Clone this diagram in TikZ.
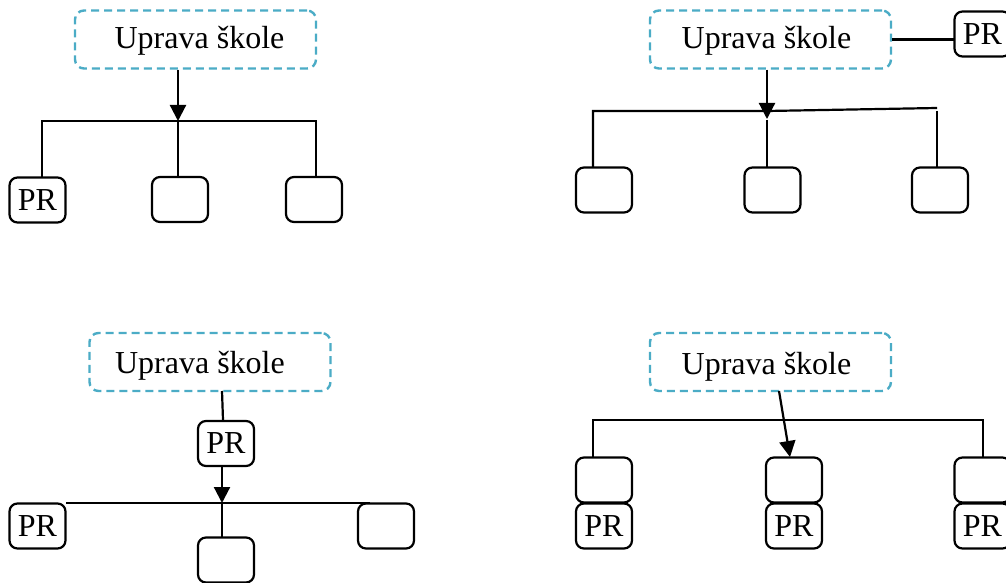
\documentclass[tikz,border=0pt]{standalone}
\usepackage{fontspec}
\setmainfont{Liberation Serif}
\usetikzlibrary{arrows.meta}
\definecolor{aqua}{RGB}{75,172,198}
\newcommand{\utext}[2]{\hspace*{#1}\raisebox{#2}[0pt][0pt]{Uprava škole}}
\begin{document}
\begin{tikzpicture}[x=1pt,y=-1pt,
  font=\fontsize{32}{36}\selectfont,
  ubox/.style={draw=aqua,line width=2.4pt,dash pattern=on 8pt off 5pt,rounded corners=9pt,
    minimum width=241pt,minimum height=58pt,inner sep=0pt},
  sbox/.style={draw=black,line width=2.2pt,rounded corners=8pt,
    minimum width=56pt,minimum height=45pt,inner sep=0pt,outer sep=0pt},
  conn/.style={draw=black,line width=2.2pt},
  arr/.style={conn,-{Triangle[length=16pt,width=16pt]}}]
\useasboundingbox (0,0) rectangle (1006,583);
\fill[white] (0,0) rectangle (1006,583);

% ---------- panel 1 ----------
\node[ubox] (u1) at (195.5,39.5) {\utext{8pt}{-9pt}};
\node[sbox] (p1a) at (37.5,200) {PR};
\node[sbox] (p1b) at (180,199.5) {};
\node[sbox] (p1c) at (314,199.5) {};
\coordinate (b1l) at (42,121);
\coordinate (b1m) at (178,121);
\coordinate (b1r) at (316,121);
\draw[conn] (b1l |- p1a.north) -- (b1l) -- (b1r) -- (b1r |- p1c.north);
\draw[conn] (b1m) -- (b1m |- p1b.north);
\draw[arr] (u1.south -| b1m) -- (b1m);

% ---------- panel 2 ----------
\node[ubox] (u2) at (770.5,39.5) {\utext{-8pt}{-9pt}};
\node[sbox] (pr2) at (982.5,34) {PR};
\node[sbox] (p2a) at (604,190) {};
\node[sbox] (p2b) at (772.5,190) {};
\node[sbox] (p2c) at (940,190) {};
\draw[conn] (u2.east) -- (u2.east -| pr2.west);
\coordinate (b2l) at (593,111);
\coordinate (b2m) at (767,111);
\coordinate (b2r) at (937,108);
\coordinate (b2rv) at (937,111);
\coordinate (b2mv) at (767,120);
\draw[conn] (b2l |- p2a.north) -- (b2l) -- (b2m) -- (b2r);
\draw[conn] (b2rv) -- (b2rv |- p2c.north);
\draw[conn] (b2mv) -- (b2mv |- p2b.north);
\draw[arr] (u2.south -| b2m) -- (767,119);

% ---------- panel 3 ----------
\node[ubox] (u3) at (210,362) {\utext{-20pt}{-11pt}};
\node[sbox] (pr3) at (226,443.5) {PR};
\node[sbox] (p3a) at (37.5,526) {PR};
\node[sbox] (p3c) at (386,526) {};
\node[sbox] (p3b) at (226,560) {};
\coordinate (c3a) at (222,391);
\coordinate (c3b) at (223,420);
\coordinate (b3l) at (66,503);
\coordinate (b3m) at (222,503);
\coordinate (b3r) at (370,503);
\draw[conn] (c3a) -- (c3b);
\draw[arr] (pr3.south -| b3m) -- (b3m);
\draw[conn] (b3l) -- (b3r);
\draw[conn] (b3m) -- (b3m |- p3b.north);

% ---------- panel 4 ----------
\node[ubox] (u4) at (770.5,362) {\utext{-8pt}{-12pt}};
\node[sbox] (q4a) at (604,480) {};
\node[sbox] (q4b) at (794,480) {};
\node[sbox] (q4c) at (982.5,480) {};
\node[sbox] (r4a) at (604,526) {PR};
\node[sbox] (r4b) at (794,526) {PR};
\node[sbox] (r4c) at (982.5,526) {PR};
\coordinate (a4s) at (779,391);
\coordinate (a4e) at (790,457);
\coordinate (b4l) at (593,420);
\coordinate (b4r) at (983,420);
\draw[conn] (b4l |- q4a.north) -- (b4l) -- (b4r) -- (b4r |- q4c.north);
\draw[arr] (a4s) -- (a4e);
\end{tikzpicture}
\end{document}
